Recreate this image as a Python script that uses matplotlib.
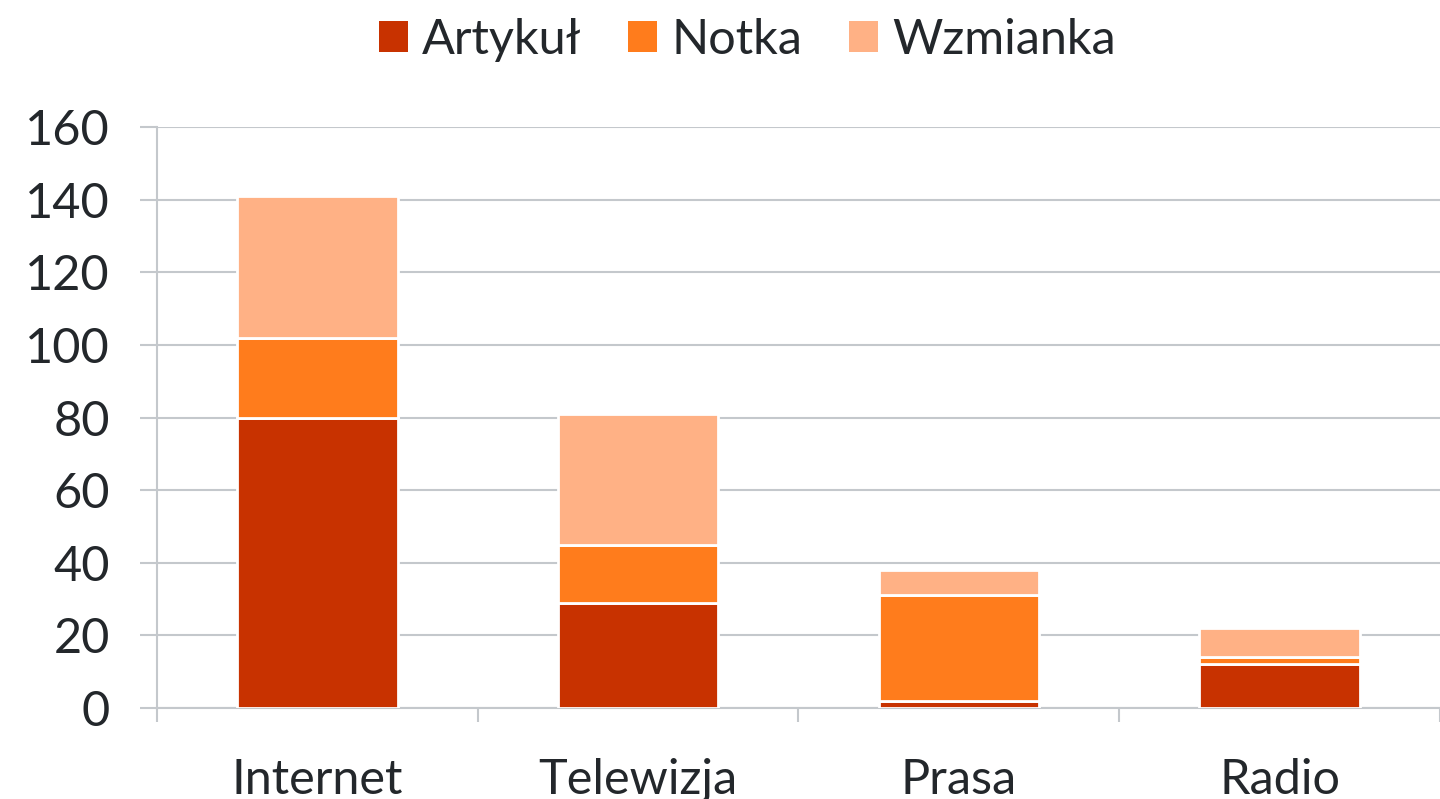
import numpy as np
import matplotlib.pyplot as plt
from matplotlib.patches import Patch

# categories and series
categories = ['Internet', 'Telewizja', 'Prasa', 'Radio']
series_names = ['Artykuł', 'Notka', 'Wzmianka']
artykul = [80, 29, 2, 12]
notka = [22, 16, 29, 2]
wzmianka = [39, 36, 7, 8]
colors = ['#C83200', '#FF7C1C', '#FFB185']
yticks = [0, 20, 40, 60, 80, 100, 120, 140, 160]

plt.rcParams['font.family'] = ['Lato', 'DejaVu Sans']
text_color = '#23272B'
grid_color = '#C4C8CC'

fig = plt.figure(figsize=(14.4, 7.99), dpi=100)
ax = fig.add_axes([0.109, 0.1139, 0.891, 0.7271])

x = np.arange(len(categories))
bottom = np.zeros(len(categories))
for vals, name, col in zip([artykul, notka, wzmianka], series_names, colors):
    ax.bar(x, vals, width=0.5, bottom=bottom, color=col, edgecolor='white',
           linewidth=2, label=name, zorder=3)
    bottom += np.array(vals)

ax.set_xlim(-0.5, len(categories) - 0.5)
ax.set_ylim(0, 160)
ax.set_yticks(yticks)
ax.yaxis.grid(True, color=grid_color, linewidth=1.5, zorder=0)

# category labels at centres, tick marks at boundaries
ax.set_xticks(x)
ax.set_xticklabels(categories)
ax.set_xticks(np.arange(len(categories) + 1) - 0.5, minor=True)
ax.tick_params(axis='x', which='major', length=0, pad=36, labelsize=35, labelcolor=text_color)
ax.tick_params(axis='x', which='minor', length=10, width=1.5, color=grid_color)
ax.tick_params(axis='y', length=12, width=1.5, color=grid_color, pad=22,
               labelsize=35, labelcolor=text_color)

for s in ['top', 'right']:
    ax.spines[s].set_visible(False)
for s in ['left', 'bottom']:
    ax.spines[s].set_color(grid_color)
    ax.spines[s].set_linewidth(1.5)

handles = [Patch(facecolor=c, label=n) for c, n in zip(colors, series_names)]
fig.legend(handles=handles, loc='center', bbox_to_anchor=(0.519, 0.95), ncol=3,
           frameon=False, fontsize=35, labelcolor=text_color,
           handlelength=0.6, handleheight=0.6, handletextpad=0.3, columnspacing=0.95)

fig.savefig('out.png', dpi=100)
